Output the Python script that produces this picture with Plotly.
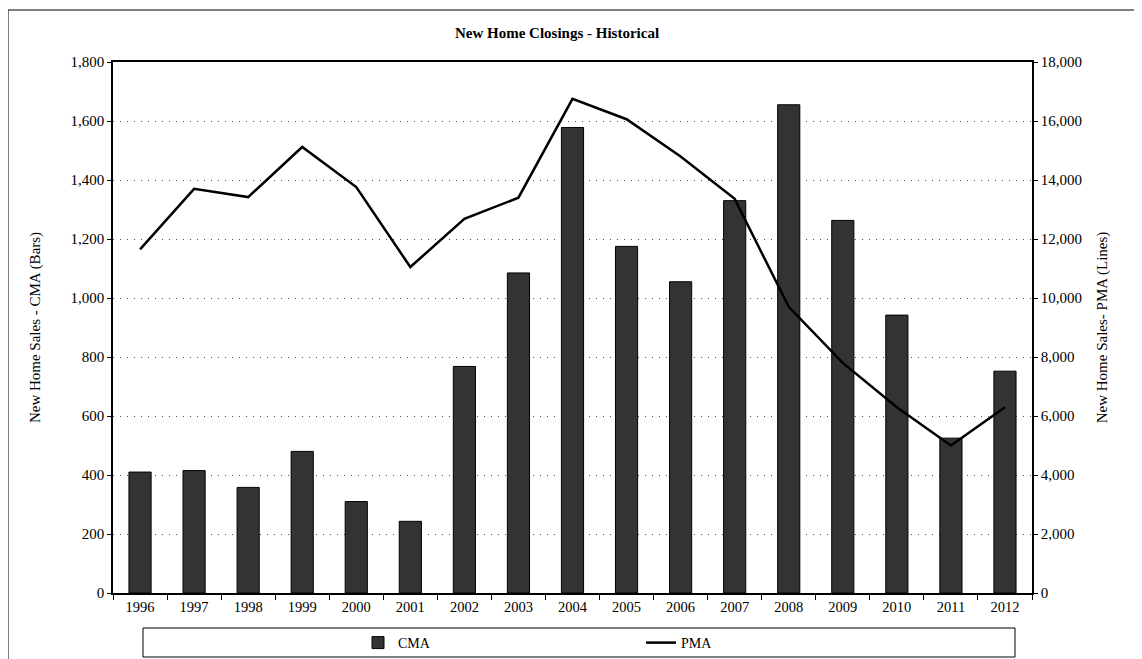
import plotly.graph_objects as go

years = ["1996", "1997", "1998", "1999", "2000", "2001", "2002", "2003", "2004",
         "2005", "2006", "2007", "2008", "2009", "2010", "2011", "2012"]
cma_bars = [410, 415, 358, 480, 310, 243, 768, 1085, 1578,
            1175, 1055, 1330, 1655, 1263, 942, 525, 752]
pma_line = [11650, 13700, 13420, 15120, 13760, 11050, 12680, 13400, 16750,
            16060, 14800, 13360, 9700, 7800, 6300, 5000, 6300]

# page has an 8px body margin, so layout coordinates are page coordinates minus 8
OFF = 8
W, H = 1142 - OFF, 659 - OFF
L, R, T, B = 113 - OFF, 1032 - OFF, 62 - OFF, 593 - OFF
pw, ph = R - L, B - T

def px(x):
    return (x - OFF - L) / pw

def py(y):
    return (B - (y - OFF)) / ph

FONT = "Liberation Serif"

fig = go.Figure()
fig.add_trace(go.Bar(
    x=years, y=cma_bars, name="CMA", width=0.41,
    marker=dict(color="#333333", line=dict(color="#000000", width=1)),
    yaxis="y",
))
fig.add_trace(go.Scatter(
    x=years, y=pma_line, name="PMA", mode="lines",
    line=dict(color="#000000", width=2.5),
    yaxis="y2",
))

fig.update_layout(
    width=W, height=H,
    margin=dict(l=L, r=W - R, t=T, b=H - B, autoexpand=False),
    paper_bgcolor="white", plot_bgcolor="white",
    font=dict(family=FONT, size=14, color="#000000"),
    title=dict(text="<b>New Home Closings - Historical</b>", x=px(557), xref="paper",
               xanchor="center", y=1 - (33 - OFF) / H, yanchor="middle",
               font=dict(family=FONT, size=15, color="#000000")),
    showlegend=True,
    legend=dict(orientation="h", x=px(358), xanchor="left", y=py(643), yanchor="middle",
                entrywidth=238, entrywidthmode="pixels",
                font=dict(family=FONT, size=14), bgcolor="rgba(0,0,0,0)",
                traceorder="normal"),
    xaxis=dict(
        type="category", showline=True, linecolor="#000000", linewidth=1.5,
        mirror=True, ticks="outside", ticklen=5, tickcolor="#000000",
        tickson="boundaries", showgrid=False, zeroline=False,
        tickfont=dict(family=FONT, size=14.5),
    ),
    yaxis=dict(
        range=[0, 1800], dtick=200, tickformat=",",
        showline=True, linecolor="#000000", linewidth=1.5,
        ticks="outside", ticklen=4, tickcolor="#000000",
        showgrid=True, gridcolor="#555555", griddash="1px,6px", gridwidth=1,
        zeroline=False, tickfont=dict(family=FONT, size=15),
        title=dict(text="New Home Sales - CMA (Bars)", standoff=26,
                   font=dict(family=FONT, size=15)),
    ),
    yaxis2=dict(
        range=[0, 18000], dtick=2000, tickformat=",", overlaying="y", side="right",
        showline=True, linecolor="#000000", linewidth=1.5,
        ticks="outside", ticklen=4, tickcolor="#000000",
        showgrid=False, zeroline=False, tickfont=dict(family=FONT, size=15),
        title=dict(text="New Home Sales- PMA (Lines)", standoff=15,
                   font=dict(family=FONT, size=15)),
    ),
    bargap=0.59,
)

shapes = [
    # legend box
    dict(type="rect", xref="paper", yref="paper", x0=px(143), x1=px(1015),
         y0=py(628), y1=py(657), line=dict(color="#000000", width=1)),
    # outer frame: left and top
    dict(type="line", xref="paper", yref="paper", x0=px(8), x1=px(8),
         y0=py(10), y1=py(659), line=dict(color="#000000", width=1)),
    dict(type="line", xref="paper", yref="paper", x0=px(8), x1=px(1142),
         y0=py(10), y1=py(10), line=dict(color="#000000", width=1)),
]
fig.update_layout(shapes=shapes)

fig.write_html("out.html")
